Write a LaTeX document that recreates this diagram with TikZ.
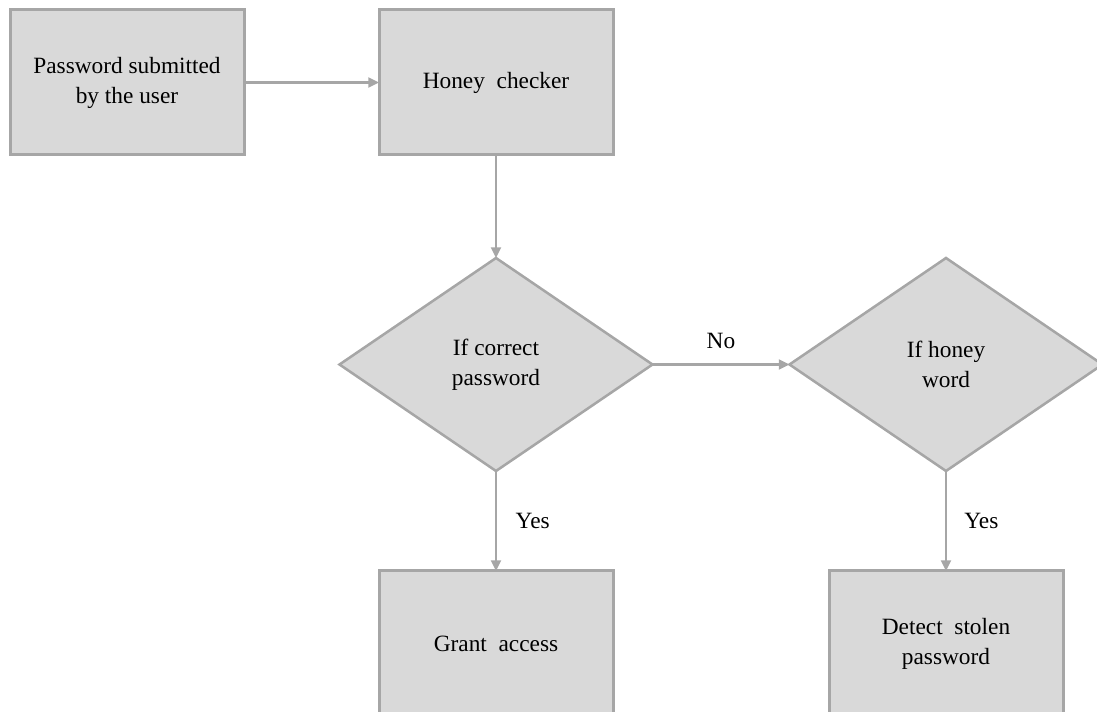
\documentclass[tikz,border=0pt]{standalone}
\usepackage{fontspec}
\setmainfont{Liberation Serif}
\usepackage{xcolor}
\usetikzlibrary{positioning,arrows.meta,shapes.geometric}

\definecolor{boxfill}{HTML}{D9D9D9}
\definecolor{boxline}{HTML}{A6A6A6}

\begin{document}
\begin{tikzpicture}[
  x=0.75pt, y=-0.75pt,
  box/.style={draw=boxline, fill=boxfill, line width=2.25pt, align=center, outer sep=0pt,
    font=\fontsize{17.5}{22.5}\selectfont, minimum width=175.5pt, minimum height=108.75pt},
  decide/.style={diamond, draw=boxline, fill=boxfill, line width=1.9pt, align=center, outer sep=0pt,
    font=\fontsize{17.5}{22.5}\selectfont, inner sep=0pt, minimum width=234.75pt, minimum height=159.75pt},
  arr/.style={-{Triangle[length=8pt,width=7.5pt]}, draw=boxline, line width=1.6pt},
  lbl/.style={font=\fontsize{17.5}{22.5}\selectfont, inner sep=0pt}
]
\clip (0,0) rectangle (1097,712);
\useasboundingbox (0,0) rectangle (1097,712);

\node[box] (submit) at (127,82.5) {Password submitted\\ by the user};
\node[box, right=101.25pt of submit] (checker) {Honey\ \ checker};

\node[decide, below=77.25pt of checker] (correct) {If correct\\ password};
\node[decide, right=102.75pt of correct] (honey) {If honey\\ word};

\node[box, below=75pt of correct] (grant) {Grant\ \ access};
\node[box, below=75pt of honey] (detect) {Detect\ \ stolen\\ password};

\draw[arr] (submit) -- (checker);
\draw[arr] (checker) -- (correct);
\draw[arr] (correct) -- node[lbl, above=11pt] (no) {No} (honey);
\draw[arr] (correct) -- node[lbl, right=14pt] (yesgrant) {Yes} (grant);
\draw[arr] (honey) -- node[lbl, right=13pt] (yesdetect) {Yes} (detect);
\end{tikzpicture}
\end{document}
